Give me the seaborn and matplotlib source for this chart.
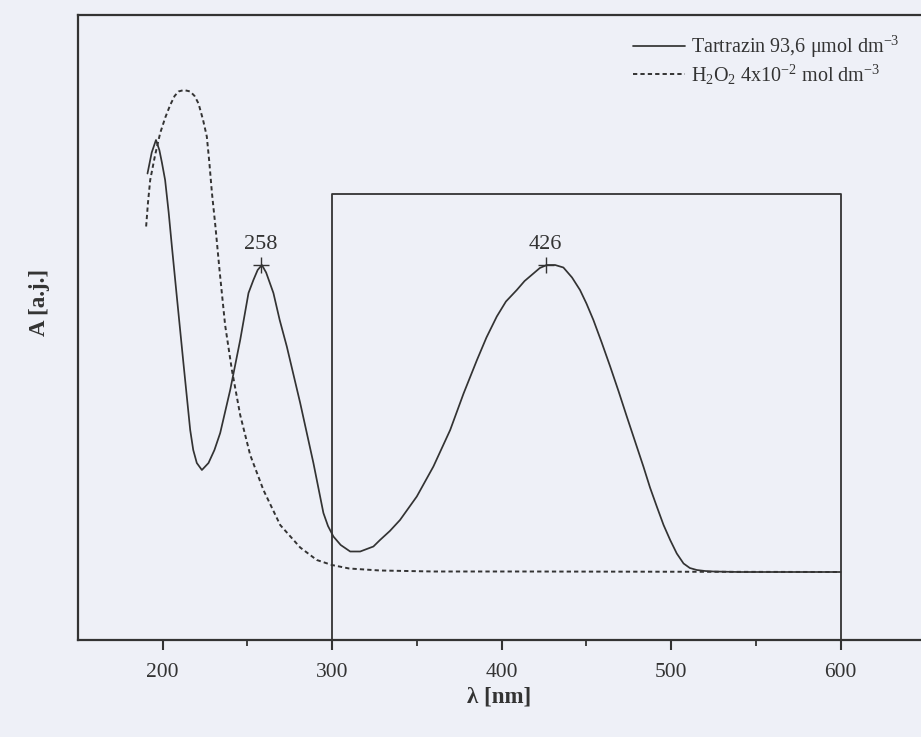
import numpy as np
import pandas as pd
import matplotlib
matplotlib.use("Agg")
import matplotlib.pyplot as plt
import seaborn as sns

# ---- data (arbitrary absorbance units) ----
wl_tartrazin = [191, 193.5, 196, 198, 199.5, 201.4, 203.5, 205.4, 208.3, 212.2, 216.2,
                218, 220.1, 223.1, 227, 230.5, 233.9, 239.8, 245.7, 250.6, 253.5, 256,
                258.5, 261, 265.3, 269, 273.2, 281.1, 288.9, 294.8, 297.5, 300.7, 305,
                310.6, 316.5, 324.3, 328.2, 334, 340, 349.9, 359.7, 369.6, 377.5, 385.4,
                391, 397.1, 402.5, 408.9, 413.5, 418.7, 422.5, 426.6, 431.5, 436.4,
                441.5, 446.2, 450, 454.1, 459, 464, 469, 473.8, 478.7, 483.6, 487.5,
                491.5, 495.5, 499.4, 503.3, 507.3, 511, 515.1, 520, 525, 540, 570, 600]
a_tartrazin = [0.933, 0.975, 1.0, 0.98, 0.955, 0.92, 0.855, 0.787, 0.687, 0.554, 0.42,
               0.38, 0.354, 0.34, 0.354, 0.38, 0.414, 0.50, 0.60, 0.694, 0.72, 0.74,
               0.75, 0.735, 0.694, 0.64, 0.587, 0.474, 0.354, 0.254, 0.228, 0.207, 0.19,
               0.177, 0.177, 0.187, 0.20, 0.218, 0.24, 0.287, 0.347, 0.42, 0.493, 0.56,
               0.605, 0.647, 0.677, 0.70, 0.718, 0.733, 0.744, 0.75, 0.75, 0.745,
               0.725, 0.70, 0.673, 0.64, 0.595, 0.547, 0.497, 0.447, 0.397, 0.347, 0.305,
               0.267, 0.23, 0.20, 0.173, 0.153, 0.144, 0.14, 0.138, 0.137, 0.136, 0.136, 0.136]

wl_h2o2 = [190.2, 191.3, 192.6, 195.5, 198.5, 201.5, 204.4, 207, 209.3, 212.5, 216.2,
           218.8, 221.1, 223.8, 226.0, 227.5, 229.0, 231.0, 233.5, 236.8, 240.8, 245.7,
           251.6, 259.4, 269.3, 281.1, 290.9, 299.8, 310, 328.2, 360, 410.8, 600]
a_h2o2 = [0.827, 0.875, 0.92, 0.97, 1.014, 1.045, 1.07, 1.088, 1.097, 1.10, 1.097,
          1.088, 1.073, 1.04, 1.007, 0.955, 0.895, 0.83, 0.74, 0.63, 0.54, 0.45,
          0.37, 0.30, 0.23, 0.185, 0.16, 0.15, 0.143, 0.139, 0.137, 0.137, 0.136]

peak_wl = [258, 426]
peak_a = [0.75, 0.75]
peak_labels = ["258", "426"]

x_major = [200, 300, 400, 500, 600]
x_minor = [250, 350, 450, 550]
inset_wl = [300, 600]
inset_top = 0.892

label_tartrazin = "Tartrazin 93,6 \u03bcmol dm$^{-3}$"
label_h2o2 = "H$_2$O$_2$ 4x10$^{-2}$ mol dm$^{-3}$"

# ---- styling ----
sns.set_theme(style="ticks")
bg = "#eef0f7"
ink = "#333333"
plt.rcParams["font.family"] = ["Liberation Serif", "DejaVu Serif"]
plt.rcParams["mathtext.fontset"] = "custom"
plt.rcParams["mathtext.rm"] = "Liberation Serif"
plt.rcParams["mathtext.it"] = "Liberation Serif:italic"
plt.rcParams["mathtext.bf"] = "Liberation Serif:bold"

fig = plt.figure(figsize=(9.21, 7.37), dpi=100, facecolor=bg)
ax = fig.add_axes([78 / 921, 97 / 737, (921 - 78) / 921, 625 / 737])
ax.set_facecolor(bg)

df_t = pd.DataFrame({"wl": wl_tartrazin, "A": a_tartrazin})
df_h = pd.DataFrame({"wl": wl_h2o2, "A": a_h2o2})

sns.lineplot(data=df_t, x="wl", y="A", ax=ax, sort=False, estimator=None,
             color=ink, lw=1.25, label=label_tartrazin)
sns.lineplot(data=df_h, x="wl", y="A", ax=ax, sort=False, estimator=None,
             color=ink, lw=1.4, linestyle=(0, (2.2, 1.6)), label=label_h2o2)

# inset frame
ax.plot([inset_wl[0], inset_wl[0], inset_wl[1], inset_wl[1]],
        [0, inset_top, inset_top, 0], color=ink, lw=1.3, zorder=1)

# peak markers and labels
sns.scatterplot(x=peak_wl, y=peak_a, ax=ax, marker="+", s=120, color=ink,
                linewidth=1.0, legend=False, zorder=5)
for w, a, t in zip(peak_wl, peak_a, peak_labels):
    ax.annotate(t, (w, a), xytext=(0, 8), textcoords="offset points",
                ha="center", va="bottom", fontsize=16, color=ink)

ax.set_xlim(150, 647.4)
ax.set_ylim(0, 1.25)
ax.set_xticks(x_major)
ax.set_xticks(x_minor, minor=True)
ax.set_yticks([])
ax.tick_params(axis="x", which="major", direction="out", length=7.5, width=1.5,
               colors=ink, labelsize=15.5, pad=9)
ax.tick_params(axis="x", which="minor", direction="out", length=4.5, width=1.3,
               colors=ink)
for s in ["left", "top", "bottom"]:
    ax.spines[s].set_color(ink)
    ax.spines[s].set_linewidth(1.6)
ax.spines["right"].set_visible(False)

ax.set_xlabel("\u03bb [nm]", fontsize=16.5, fontweight="bold", color=ink, labelpad=3)
ax.set_ylabel("A [a.j.]", fontsize=16.5, fontweight="bold", color=ink)
ax.yaxis.set_label_coords(-0.033, 0.54)

leg = ax.legend(loc="upper right", bbox_to_anchor=(0.975, 0.97), frameon=False,
                fontsize=14.5, handlelength=2.6, handletextpad=0.3,
                labelspacing=0.12, borderpad=0.0, borderaxespad=0.0)
for txt in leg.get_texts():
    txt.set_color(ink)

fig.savefig("out.png", dpi=100, facecolor=bg)
